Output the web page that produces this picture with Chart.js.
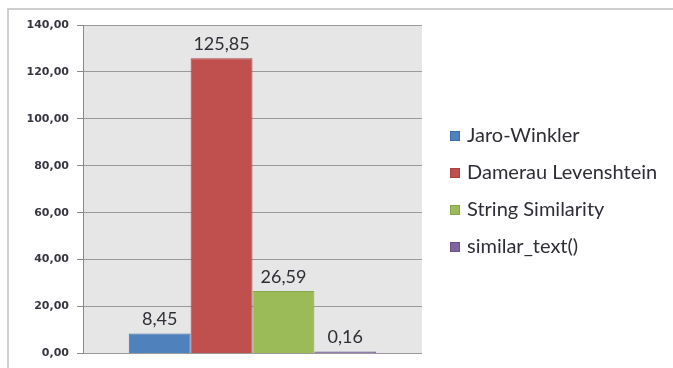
<!DOCTYPE html>
<html>
<head>
<meta charset="utf-8">
<script src="https://cdn.jsdelivr.net/npm/chart.js@4"></script>
<style>
  html, body { margin: 0; padding: 0; background: #fff; }
  #wrap { width: 673px; height: 368px; }
</style>
</head>
<body>
<div id="wrap"><canvas id="chart"></canvas></div>
<script>
// data
const seriesNames = ['Jaro-Winkler', 'Damerau Levenshtein', 'String Similarity', 'similar_text()'];
const seriesValues = [8.45, 125.85, 26.59, 0.16];
const barColors = ['#4f81bd', '#c0504d', '#9bbb59', '#8064a2'];
const edgeColors = ['#3f6fa8', '#a94340', '#86a64a', '#6c528c'];
const yTicks = [0, 20, 40, 60, 80, 100, 120, 140];

const fmt = v => v.toFixed(2).replace('.', ',');

// frame + gray plot background
const backdrop = {
    id: 'backdrop',
    beforeDraw(chart) {
        const { ctx, chartArea: a } = chart;
        ctx.save();
        ctx.fillStyle = '#e6e6e6';
        ctx.fillRect(a.left, a.top, a.right - a.left, a.bottom - a.top);
        ctx.strokeStyle = '#cfcfcf';
        ctx.lineWidth = 2;
        ctx.beginPath();
        ctx.moveTo(8, 368);
        ctx.lineTo(8, 9);
        ctx.lineTo(673, 9);
        ctx.stroke();
        ctx.restore();
    }
};

// value labels above bars
const valueLabels = {
    id: 'valueLabels',
    afterDatasetsDraw(chart) {
        const { ctx } = chart;
        ctx.save();
        ctx.font = '18px Lato';
        ctx.fillStyle = '#2e2e36';
        ctx.textAlign = 'center';
        ctx.textBaseline = 'bottom';
        chart.data.datasets.forEach((ds, i) => {
            const bar = chart.getDatasetMeta(i).data[0];
            ctx.fillText(fmt(ds.data[0]), bar.x, bar.y - 5);
        });
        ctx.restore();
    }
};

// legend on the right, drawn from the dataset labels/colours
const sideLegend = {
    id: 'sideLegend',
    afterDraw(chart) {
        const { ctx } = chart;
        const x = 450, y0 = 136, step = 37;
        ctx.save();
        ctx.font = '20px Lato';
        ctx.textBaseline = 'middle';
        chart.data.datasets.forEach((ds, i) => {
            const y = y0 + i * step;
            ctx.fillStyle = ds.backgroundColor;
            ctx.fillRect(x, y - 5, 10, 10);
            ctx.strokeStyle = ds.borderColor;
            ctx.lineWidth = 1;
            ctx.strokeRect(x + 0.5, y - 4.5, 9, 9);
            ctx.fillStyle = '#2e2e36';
            ctx.fillText(ds.label, 467, y);
        });
        ctx.restore();
    }
};

new Chart(document.getElementById('chart'), {
    type: 'bar',
    data: {
        labels: [''],
        datasets: seriesNames.map((name, i) => ({
            label: name,
            data: [seriesValues[i]],
            backgroundColor: barColors[i],
            borderColor: edgeColors[i],
            borderWidth: 1,
            minBarLength: 2,
            barPercentage: 1,
            categoryPercentage: 0.73
        }))
    },
    options: {
        responsive: true,
        maintainAspectRatio: false,
        animation: false,
        layout: { padding: { top: 25, bottom: 14, left: 0, right: 251 } },
        plugins: {
            tooltip: { enabled: false },
            legend: { display: false }
        },
        scales: {
            x: { display: false },
            y: {
                min: 0,
                max: 140,
                afterBuildTicks: s => { s.ticks = yTicks.map(v => ({ value: v })); },
                afterFit: s => { s.width = 83; },
                grid: { color: '#9a9a9a', tickLength: 6, tickColor: '#8a8a8a' },
                border: { color: '#8a8a8a' },
                ticks: {
                    padding: 8,
                    color: '#363640',
                    font: { family: 'DejaVu Sans', size: 11, weight: 'bold' },
                    callback: v => fmt(v)
                }
            }
        }
    },
    plugins: [backdrop, valueLabels, sideLegend]
});
</script>
</body>
</html>
